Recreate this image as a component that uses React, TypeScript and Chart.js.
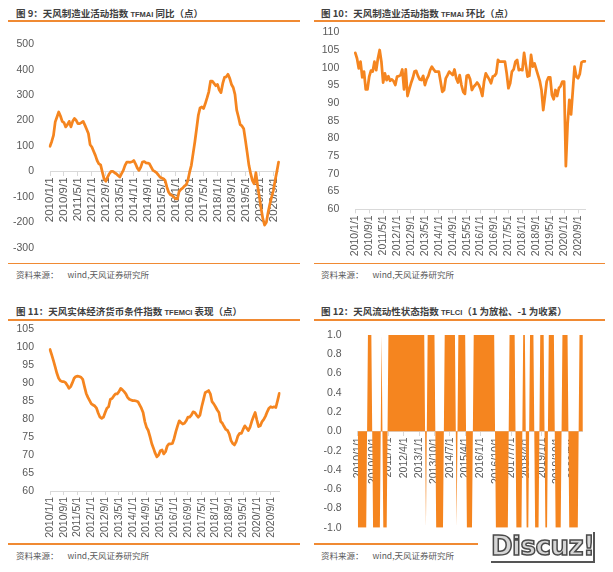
import React, { useEffect, useRef } from 'react';
import { Chart, registerables } from 'chart.js';

Chart.register(...registerables);

// ---------------- data ----------------
const START_YEAR = 2010;
const START_MONTH = 1;

// 图9 TFMAI 同比（点）
const tfmaiYoy: number[] = [
  99, 118, 142, 195, 214, 234, 218, 197, 192, 175,
  184, 197, 175, 197, 208, 201, 188, 188, 192, 197,
  182, 166, 149, 105, 96, 79, 63, 43, 30, 26,
  -3, -29, -39, -22, -9, 0, 0, -5, -9, -16,
  -22, -9, 4, 24, 37, 37, 36, 38, 43, 30,
  14, 4, 17, 37, 39, 34, 33, 30, 17, 4,
  0, -5, -13, -22, -26, -29, -36, -62, -82, -92,
  -95, -101, -108, -108, -79, -71, -66, -58, -53, -36,
  -3, 24, 70, 116, 168, 221, 250, 254, 247, 267,
  289, 313, 355, 355, 346, 337, 342, 320, 310, 346,
  370, 372, 382, 366, 342, 330, 303, 241, 214, 184,
  179, 168, 122, 74, 24, -9, -36, -49, -5, -58,
  -101, -147, -187, -211, -200, -161, -128, -101, -75, -36,
  0, 37,
];

// 图10 TFMAI 环比（点）
const tfmaiMom: number[] = [
  104.2, 102.6, 99.8, 101.7, 97.3, 98.9, 93.9, 93.9, 97.5, 99.2,
  98.9, 101.7, 99.3, 102.6, 105, 101.7, 95.8, 98.4, 96.5, 97.6,
  96.3, 96.7, 96.2, 95.1, 97.5, 97.6, 97.9, 99.5, 93.9, 99.5,
  92, 93.9, 95.6, 97, 98.9, 99.1, 97.7, 96.7, 96.5, 97.7,
  95.1, 96.7, 97.7, 99.3, 100.3, 99.5, 98.9, 98.9, 98.9, 96.1,
  93.2, 93.7, 97, 97.9, 98.9, 98.4, 97.9, 99.5, 97, 95.8,
  97.9, 95.1, 93.2, 92.6, 97.7, 97.9, 96.7, 93.7, 94.6, 95.1,
  95.8, 95.1, 93.9, 92, 96.1, 98.4, 97.5, 96.7, 95.6, 97.5,
  97.7, 98.4, 102.2, 101.7, 101.7, 101.7, 101.7, 98.4, 94.2, 95.6,
  98.9, 99.5, 101.7, 102.2, 99.3, 99.5, 99.3, 104.2, 100.8, 97.5,
  97.7, 103.6, 100.3, 101.2, 99.5, 97.9, 96.3, 93.7, 88, 92,
  96.1, 97.3, 97.3, 92.3, 91.1, 93.7, 92, 94.2, 94.8, 96.1,
  96.1, 72.2, 84, 90.9, 86.8, 93.5, 100.3, 97.5, 97, 98.2,
  101.5, 101.8, 101.8,
];

// 图11 TFEMCI 表现（点）
const tfemci: number[] = [
  99.3, 97.8, 96.2, 94.5, 92.7, 91.3, 90.6, 90.4, 90.4, 90.1,
  89.4, 88.5, 89, 90.1, 91.3, 91.8, 91.9, 91.8, 91.6, 91,
  89, 87.1, 86, 85.1, 84.2, 83.9, 83.6, 83, 81.6, 80.5,
  80.2, 80.5, 81.8, 83, 83.4, 85.5, 85.7, 86.4, 87, 87,
  87.6, 88.5, 88.1, 87.6, 87, 86, 85.5, 85.3, 85.1, 85.1,
  85, 84.8, 83.9, 83, 81.8, 79.3, 77.7, 76.8, 75.1, 73.2,
  71.9, 70.5, 69.5, 70, 71.2, 71.4, 70.3, 70.9, 72.5, 73.1,
  73.1, 73.2, 74.6, 76.5, 78.1, 79.5, 79, 78.6, 78.8, 79.5,
  80.5, 80.5, 81.1, 82, 81.8, 81.1, 80.5, 81.1, 83.4, 85.3,
  87.3, 87.6, 87.9, 87, 84.8, 84.2, 83.4, 82.5, 81.8, 79.3,
  78.8, 77.9, 77.1, 76.8, 75.8, 74, 73.2, 72.8, 73.7, 75.3,
  76, 76, 77.1, 78.1, 77.5, 76.8, 77.7, 79.3, 80.6, 81.8,
  79.7, 77.9, 78.1, 79.3, 79.9, 80.8, 82, 83, 83.4, 83.2,
  83.4, 83.2, 85.1, 87.1,
];

// 图12 TFLCI（1 为放松、-1 为收紧）
const tflci: number[] = [
  -1, -1, -1, -1, -1, -1, 1, 1, 1, -1,
  -1, -1, -1, -1, 1, -1, -1, -1, 1, 1,
  1, 1, 1, 1, 1, 1, 1, 1, 1, 1,
  1, 1, 1, 1, 1, 1, 1, 1, 1, 1,
  -1, 1, 1, 1, 1, 1, -1, -1, -1, -1,
  -1, 1, 1, 1, 1, 1, 1, 1, -1, 1,
  1, 1, 1, 1, -1, -1, -1, -1, 1, 1,
  1, 1, 1, 1, 1, 1, 1, 1, 1, 1,
  1, -1, -1, -1, -1, -1, -1, -1, -1, 1,
  1, 1, 1, -1, -1, -1, -1, 1, 1, -1,
  -1, 1, 1, 1, -1, -1, -1, 1, 1, 1,
  -1, -1, 1, 1, 1, 1, -1, -1, -1, -1,
  1, 1, 1, 1, -1, -1, -1, -1, -1, -1,
  1, 1, 1,
];

const LABEL_EVERY_8 = 8;
const LABEL_EVERY_9 = 9;

function monthCategories(count: number): string[] {
  const out: string[] = [];
  for (let i = 0; i < count; i++) {
    const t = START_MONTH - 1 + i;
    out.push(`${START_YEAR + Math.floor(t / 12)}/${(t % 12) + 1}/1`);
  }
  return out;
}

// ---------------- styles ----------------
const ORANGE = '#F5851F';
const AXIS_GREY = '#D9D9D9';
const TEXT_GREY = '#595959';
const TICK_FONT = "'Liberation Sans', Arial, sans-serif";

type Box = { left: number; top: number; width: number; height: number };

function xScale(labels: string[], every: number, atZero: boolean, xHeight: number, fontSize: number) {
  return {
    type: 'category',
    position: atZero ? { y: 0 } : 'bottom',
    offset: false,
    grid: {
      display: true,
      drawOnChartArea: false,
      drawTicks: true,
      tickLength: 4,
      color: (c: any) => (c.index % every === 0 ? AXIS_GREY : 'rgba(0,0,0,0)'),
    },
    border: { display: true, color: AXIS_GREY, width: 1 },
    ticks: {
      autoSkip: false,
      minRotation: 90,
      maxRotation: 90,
      padding: 2,
      color: TEXT_GREY,
      font: { family: TICK_FONT, size: fontSize },
      callback: (_v: any, i: number) => (i % every === 0 ? labels[i] : ''),
    },
    afterFit: (s: any) => {
      s.height = xHeight;
    },
  };
}

function yScale(min: number, max: number, step: number, width: number, fmt?: (v: number) => string) {
  return {
    min,
    max,
    grid: { display: false },
    border: { display: false },
    ticks: {
      stepSize: step,
      padding: 8,
      color: TEXT_GREY,
      font: { family: TICK_FONT, size: 10.5 },
      callback: fmt ? (v: any) => fmt(Number(v)) : (v: any) => String(v),
    },
    afterFit: (s: any) => {
      s.width = width;
    },
  };
}

function baseOptions(padding: any, scales: any) {
  return {
    animation: false,
    responsive: false,
    events: [],
    layout: { padding },
    plugins: { legend: { display: false }, tooltip: { enabled: false } },
    scales,
  };
}

function lineDataset(data: number[]) {
  return {
    data,
    borderColor: ORANGE,
    borderWidth: 2.75,
    pointRadius: 0,
    tension: 0,
    fill: false,
    borderJoinStyle: 'round',
    borderCapStyle: 'round',
  };
}

// chart 1: TFMAI 同比  (plot area: x 50..278.6, y 44.3..247.7)
function config1() {
  const labels = monthCategories(tfmaiYoy.length);
  return {
    type: 'line',
    data: { labels, datasets: [lineDataset(tfmaiYoy)] },
    options: baseOptions(
      { left: 0, top: 19.3, right: 21.4, bottom: 16.3 },
      { x: xScale(labels, LABEL_EVERY_8, true, 0, 11.5), y: yScale(-300, 500, 100, 42) }
    ),
  };
}

// chart 2: TFMAI 环比  (plot area: x 355.3..585, y 32.3..209.3)
function config2() {
  const labels = monthCategories(tfmaiMom.length);
  return {
    type: 'line',
    data: { labels, datasets: [lineDataset(tfmaiMom)] },
    options: baseOptions(
      { left: 0, top: 17.3, right: 19, bottom: 0 },
      { x: xScale(labels, LABEL_EVERY_8, false, 51.7, 10.5), y: yScale(60, 110, 5, 41.3) }
    ),
  };
}

// chart 3: TFEMCI  (plot area: x 50..279.3, y 329..491)
function config3() {
  const labels = monthCategories(tfemci.length);
  return {
    type: 'line',
    data: { labels, datasets: [lineDataset(tfemci)] },
    options: baseOptions(
      { left: 0, top: 19, right: 20.7, bottom: 0 },
      { x: xScale(labels, LABEL_EVERY_8, false, 49, 10.5), y: yScale(60, 105, 5, 42) }
    ),
  };
}

// chart 4: TFLCI  (plot area: x 357.7..582.9, y 335..527.7)
function config4() {
  const labels = monthCategories(tflci.length);
  return {
    type: 'line',
    data: {
      labels,
      datasets: [
        {
          data: tflci,
          borderWidth: 0,
          borderColor: ORANGE,
          backgroundColor: ORANGE,
          pointRadius: 0,
          tension: 0,
          fill: 'origin',
        },
      ],
    },
    options: baseOptions(
      { left: 0, top: 19, right: 21.1, bottom: 16.3 },
      {
        x: xScale(labels, LABEL_EVERY_9, true, 0, 10.5),
        y: yScale(-1, 1, 0.2, 43.7, (v) => (Math.abs(v) < 1e-9 ? '0.0' : v.toFixed(1))),
      }
    ),
  };
}

function ChartCanvas({ box, make }: { box: Box; make: () => any }) {
  const ref = useRef<HTMLCanvasElement | null>(null);
  useEffect(() => {
    if (!ref.current) return;
    const chart = new Chart(ref.current, make());
    return () => chart.destroy();
  }, []);
  return (
    <canvas
      ref={ref}
      width={box.width}
      height={box.height}
      style={{ position: 'absolute', left: box.left, top: box.top, width: box.width, height: box.height }}
    />
  );
}

const titleStyle: React.CSSProperties = {
  position: 'absolute',
  fontFamily: "'Noto Sans CJK SC', sans-serif",
  fontWeight: 700,
  fontSize: 9.5,
  lineHeight: '14px',
  color: '#404040',
  whiteSpace: 'nowrap',
};
const latinSmall: React.CSSProperties = { fontSize: 7.5, fontFamily: "'Liberation Sans', Arial, sans-serif" };
const sourceStyle: React.CSSProperties = {
  position: 'absolute',
  fontFamily: "'Noto Sans CJK SC', sans-serif",
  fontSize: 8.5,
  lineHeight: '14px',
  color: '#595959',
  whiteSpace: 'pre',
};

function Rule({ left, top, width }: { left: number; top: number; width: number }) {
  return <div style={{ position: 'absolute', left, top, width, height: 1.5, background: '#F08A33' }} />;
}

function Source({ left, top }: { left: number; top: number }) {
  return (
    <div style={{ ...sourceStyle, left, top }}>
      资料来源：<span style={{ display: 'inline-block', width: 9 }} />wind,天风证券研究所
    </div>
  );
}

export default function App() {
  return (
    <div style={{ position: 'absolute', left: 0, top: 0, width: 613, height: 572, background: '#fff', overflow: 'hidden' }}>
      {/* titles */}
      <div style={{ ...titleStyle, left: 16, top: 6 }}>
        图 9：天风制造业活动指数 <span style={latinSmall}>TFMAI</span> 同比（点）
      </div>
      <div style={{ ...titleStyle, left: 321, top: 6 }}>
        图 10：天风制造业活动指数 <span style={latinSmall}>TFMAI</span> 环比（点）
      </div>
      <div style={{ ...titleStyle, left: 16, top: 304 }}>
        图 11：天风实体经济货币条件指数 <span style={latinSmall}>TFEMCI</span> 表现（点）
      </div>
      <div style={{ ...titleStyle, left: 321, top: 304 }}>
        图 12：天风流动性状态指数 <span style={latinSmall}>TFLCI</span>（1 为放松、-1 为收紧）
      </div>

      {/* rules */}
      <Rule left={8} top={20.3} width={292} />
      <Rule left={314} top={20.3} width={291} />
      <Rule left={8} top={262.5} width={292} />
      <Rule left={314} top={262.5} width={291} />
      <Rule left={8} top={319.3} width={292} />
      <Rule left={314} top={319.3} width={291} />
      <Rule left={8} top={543.3} width={292} />
      <Rule left={314} top={543.3} width={164} />

      {/* sources */}
      <Source left={16} top={267} />
      <Source left={321} top={267} />
      <Source left={16} top={548} />
      <Source left={321} top={548} />

      {/* charts */}
      <ChartCanvas box={{ left: 8, top: 25, width: 292, height: 239 }} make={config1} />
      <ChartCanvas box={{ left: 314, top: 15, width: 290, height: 246 }} make={config2} />
      <ChartCanvas box={{ left: 8, top: 310, width: 292, height: 230 }} make={config3} />
      <ChartCanvas box={{ left: 314, top: 316, width: 290, height: 228 }} make={config4} />

      {/* watermark */}
      <div
        style={{
          position: 'absolute',
          left: 491,
          top: 532,
          width: 104,
          height: 31,
          background: '#fff',
          borderRight: '2px solid #555',
          borderBottom: '2px solid #555',
          boxSizing: 'border-box',
          fontFamily: "'DejaVu Sans', sans-serif",
          fontWeight: 700,
          fontSize: 26,
          lineHeight: '29px',
          color: '#D6D6D6',
          WebkitTextStroke: '1.5px #4a4a4a',
          textAlign: 'center',
          letterSpacing: -0.5,
        }}
      >
        Discuz!
      </div>
    </div>
  );
}
